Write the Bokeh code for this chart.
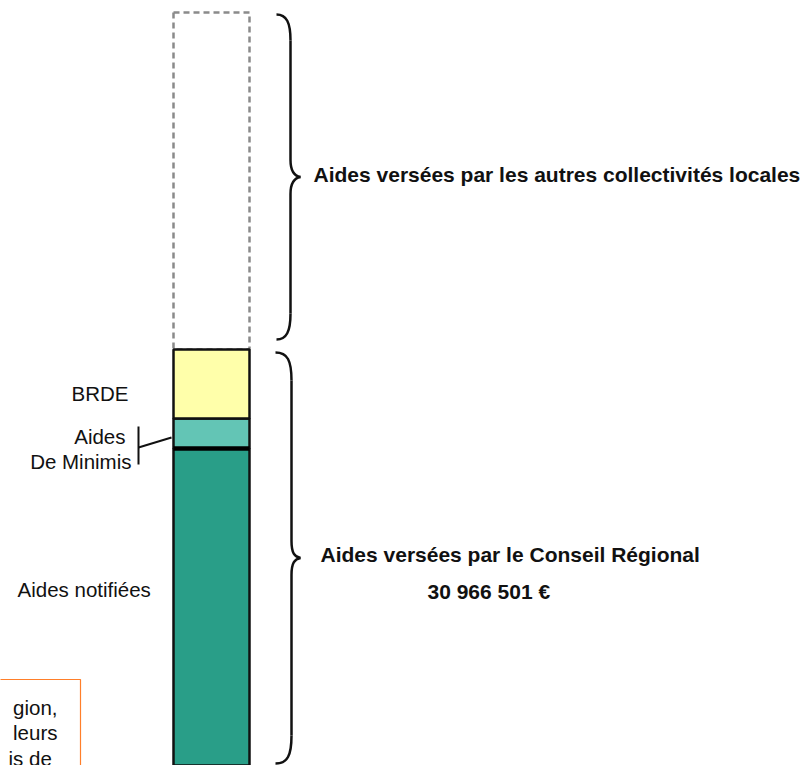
from bokeh.plotting import figure
from bokeh.models import Range1d
from bokeh.core.properties import value
from bokeh.embed import file_html
from bokeh.resources import INLINE

# ---------------- data ----------------
segment_names = ["Aides notifiées", "Aides De Minimis", "BRDE"]
segment_values = [23_597_000, 2_233_000, 5_136_501]
segment_colors = ["#299e88", "#63c5b5", "#ffffaa"]
conseil_total = 30_966_501
autres_collectivites = 25_086_000   # dashed (unquantified) block, estimated height
total_label = "30 966 501 €"
label_autres = "Aides versées par les autres collectivités locales"
label_conseil = "Aides versées par le Conseil Régional"
note_lines = ["gion,", "leurs", "is  de"]

# ---------------- layout ----------------
W, H = 807, 765
BOTTOM_PX = 765          # screenshot row of value 0
BAR_TOP_PX = 349         # screenshot row of conseil_total
k = conseil_total / (BOTTOM_PX - BAR_TOP_PX)   # euros per pixel
y_end = H * k
TXT = -8                 # text baseline correction (px)


def py(row):
    """screenshot row -> data value"""
    return (BOTTOM_PX - row) * k


def ty(row):
    return py(row + TXT)


FONT = value("Liberation Sans")
BAR_L, BAR_R = 173, 249

p = figure(width=W, height=H, x_range=Range1d(0, W), y_range=Range1d(0, y_end),
           output_backend="svg", toolbar_location=None, min_border=0,
           x_axis_type=None, y_axis_type=None, outline_line_color=None)
p.background_fill_color = "white"
p.border_fill_color = "white"

# dashed block: other local authorities
p.quad(left=[BAR_L], right=[BAR_R], bottom=[conseil_total],
       top=[conseil_total + autres_collectivites], fill_color=None,
       line_color="#8a8a8a", line_dash="6 4", line_width=2.5)

# stacked bar: Conseil Régional
bottoms, tops = [], []
acc = 0
for v in segment_values:
    bottoms.append(acc)
    acc += v
    tops.append(acc)
p.quad(left=[BAR_L] * 3, right=[BAR_R] * 3, bottom=bottoms, top=tops,
       fill_color=segment_colors, line_color="#111111", line_width=2.5)
# thick separator above "Aides notifiées"
p.segment(x0=[BAR_L], x1=[BAR_R], y0=[tops[0]], y1=[tops[0]],
          line_color="#000000", line_width=4.5)


# ---------------- braces ----------------
def brace(xe, xv, xt, top_row, bot_row, r=26, r2=17):
    mid = (top_row + bot_row) / 2
    bz = dict(x0=[], y0=[], x1=[], y1=[], cx0=[], cy0=[], cx1=[], cy1=[])

    def add(a, b, c0, c1):
        bz["x0"].append(a[0]); bz["y0"].append(py(a[1]))
        bz["x1"].append(b[0]); bz["y1"].append(py(b[1]))
        bz["cx0"].append(c0[0]); bz["cy0"].append(py(c0[1]))
        bz["cx1"].append(c1[0]); bz["cy1"].append(py(c1[1]))

    add((xe, top_row), (xv, top_row + r), (xv - 4, top_row), (xv, top_row + 8))
    add((xv, mid - r2), (xt, mid), (xv, mid - 5), (xt - 6, mid - 1))
    add((xt, mid), (xv, mid + r2), (xt - 6, mid + 1), (xv, mid + 5))
    add((xv, bot_row - r), (xe, bot_row), (xv, bot_row - 8), (xv - 4, bot_row))
    p.bezier(**bz, line_color="#111111", line_width=2.5)
    p.segment(x0=[xv, xv], x1=[xv, xv],
              y0=[py(top_row + r), py(mid + r2)], y1=[py(mid - r2), py(bot_row - r)],
              line_color="#111111", line_width=2.5)


brace(276, 290, 300, 14, 339)
brace(275, 291, 300, 352, 763, r=28)

# bracket for "Aides De Minimis"
p.segment(x0=[138, 138], x1=[138, 171], y0=[py(426), py(447)], y1=[py(464), py(437)],
          line_color="#111111", line_width=2)

# note box (partially visible)
p.quad(left=[-40], right=[80], top=[py(679)], bottom=[py(820)], fill_color=None,
       line_color="#ff7f2a", line_width=1.2)
p.text(x=[57, 57, 57], y=[ty(715), ty(740), ty(766)], text=note_lines,
       text_font=FONT, text_font_size="20.5px", text_align="right",
       text_baseline="alphabetic", text_color="#111111")

# ---------------- labels ----------------
p.text(x=[313, 320], y=[ty(182), ty(562)], text=[label_autres, label_conseil],
       text_font=FONT, text_font_size="21px", text_font_style="bold",
       text_align="left", text_baseline="alphabetic", text_color="#111111")
p.text(x=[427], y=[ty(599)], text=[total_label],
       text_font=FONT, text_font_size="21px", text_font_style="bold",
       text_align="left", text_baseline="alphabetic", text_color="#111111")

p.text(x=[128, 125, 131], y=[ty(401), ty(444), ty(469)],
       text=[segment_names[2], "Aides", "De Minimis"],
       text_font=FONT, text_font_size="20.5px", text_align="right",
       text_baseline="alphabetic", text_color="#111111")
p.text(x=[17], y=[ty(597)], text=[segment_names[0]],
       text_font=FONT, text_font_size="20.5px", text_align="left",
       text_baseline="alphabetic", text_color="#111111")

open("out.html", "w").write(file_html(p, INLINE))
